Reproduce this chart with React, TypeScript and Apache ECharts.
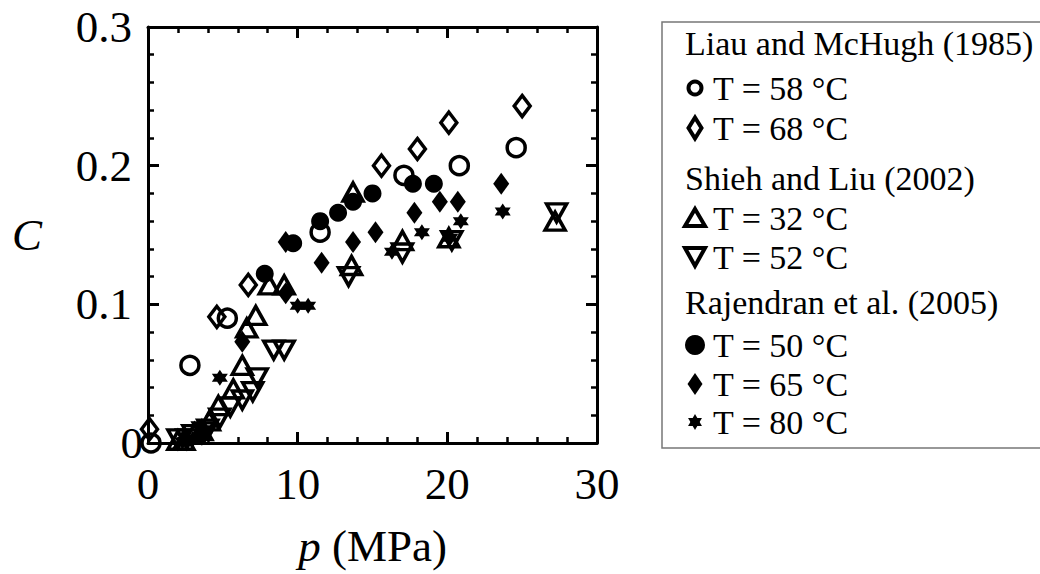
import React, { useEffect, useRef } from 'react';
import * as echarts from 'echarts';

// p (MPa), C
const liau58: number[][] = [[0.2, 0.0], [2.8, 0.056], [5.3, 0.090], [11.5, 0.152], [17.1, 0.193], [20.8, 0.200], [24.6, 0.213]];
const liau68: number[][] = [[0.1, 0.010], [4.6, 0.091], [6.7, 0.114], [15.6, 0.200], [18.0, 0.212], [20.1, 0.231], [25.0, 0.243]];
const shieh32: number[][] = [[2.0, 0.002], [2.4, 0.002], [3.1, 0.007], [3.6, 0.009], [4.1, 0.016], [4.7, 0.027], [5.7, 0.039], [6.3, 0.056], [6.6, 0.083], [7.2, 0.092], [8.1, 0.114], [9.1, 0.114], [13.6, 0.128], [13.7, 0.181], [17.0, 0.146], [20.1, 0.148], [27.2, 0.160]];
const shieh52: number[][] = [[2.0, 0.003], [2.6, 0.003], [3.0, 0.006], [3.7, 0.008], [4.0, 0.010], [4.8, 0.018], [5.5, 0.026], [6.3, 0.031], [7.0, 0.037], [7.3, 0.047], [8.4, 0.067], [9.1, 0.067], [13.4, 0.120], [17.0, 0.137], [20.3, 0.146], [27.3, 0.166]];
const raj50: number[][] = [[7.8, 0.122], [9.7, 0.144], [11.5, 0.160], [12.7, 0.166], [13.7, 0.174], [15.0, 0.180], [17.7, 0.187], [19.1, 0.187]];
const raj65: number[][] = [[3.6, 0.006], [6.3, 0.073], [9.2, 0.108], [9.2, 0.145], [11.6, 0.130], [13.7, 0.145], [15.2, 0.152], [17.8, 0.166], [19.5, 0.174], [20.7, 0.174], [23.6, 0.187]];
const raj80: number[][] = [[2.3, 0.001], [3.0, 0.003], [3.8, 0.010], [4.8, 0.047], [10.0, 0.099], [10.7, 0.099], [16.3, 0.138], [18.3, 0.152], [20.2, 0.148], [20.9, 0.160], [23.7, 0.167]];

const legendHeaders = ['Liau and McHugh (1985)', 'Shieh and Liu (2002)', 'Rajendran et al. (2005)'];
const legendItems = ['T = 58 °C', 'T = 68 °C', 'T = 32 °C', 'T = 52 °C', 'T = 50 °C', 'T = 65 °C', 'T = 80 °C'];

const FONT = '"Liberation Serif", "Times New Roman", serif';
const DOWN_TRI = 'path://M0,0 L20,0 L10,18 Z';
const STAR = 'path://M10,0 L18.66,15 L1.34,15 Z M10,20 L1.34,5 L18.66,5 Z';

const openStyle = { color: 'rgba(0,0,0,0)', borderColor: '#000', borderWidth: 3.5, opacity: 1 };
const fillStyle = { color: '#000', borderColor: '#000', borderWidth: 0, opacity: 1 };

function buildLegend() {
  const st = () => ({ fill: 'none', stroke: '#000', lineWidth: 4 });
  const fs = () => ({ fill: '#000' });
  const els: any[] = [
    { type: 'rect', shape: { x: 662, y: 22, width: 420, height: 426 }, style: { fill: 'none', stroke: '#777', lineWidth: 1.5 } },
  ];
  const headerY = [43, 178, 302];
  headerY.forEach((y, i) => {
    els.push({ type: 'text', x: 685, y, style: { text: legendHeaders[i], font: `34px ${FONT}`, fill: '#000', verticalAlign: 'middle', align: 'left' } });
  });
  const itemY = [88, 128, 218, 257, 345, 384, 422];
  itemY.forEach((y, i) => {
    els.push({ type: 'text', x: 713, y, style: { text: legendItems[i], font: `34px ${FONT}`, fill: '#000', verticalAlign: 'middle', align: 'left' } });
  });
  const cx = 695;
  els.push({ type: 'circle', shape: { cx, cy: 88, r: 6.5 }, style: st() });
  els.push({ type: 'polygon', shape: { points: [[cx, 128 - 10.5], [cx + 6.5, 128], [cx, 128 + 10.5], [cx - 6.5, 128]] }, style: st() });
  els.push({ type: 'polygon', shape: { points: [[cx, 218 - 9], [cx + 10, 218 + 8], [cx - 10, 218 + 8]] }, style: st() });
  els.push({ type: 'polygon', shape: { points: [[cx - 10, 257 - 9], [cx + 10, 257 - 9], [cx, 257 + 9]] }, style: st() });
  els.push({ type: 'circle', shape: { cx, cy: 345, r: 10 }, style: fs() });
  els.push({ type: 'polygon', shape: { points: [[cx, 384 - 11], [cx + 7.5, 384], [cx, 384 + 11], [cx - 7.5, 384]] }, style: fs() });
  const sy = 422, sr = 8;
  els.push({ type: 'polygon', shape: { points: [[cx, sy - sr], [cx + sr * 0.866, sy + sr * 0.5], [cx - sr * 0.866, sy + sr * 0.5]] }, style: fs() });
  els.push({ type: 'polygon', shape: { points: [[cx, sy + sr], [cx - sr * 0.866, sy - sr * 0.5], [cx + sr * 0.866, sy - sr * 0.5]] }, style: fs() });
  return els;
}

export default function App() {
  const ref = useRef<HTMLDivElement>(null);
  useEffect(() => {
    if (!ref.current) return;
    const chart = echarts.init(ref.current, undefined, { renderer: 'svg' });
    const tickCommon = {
      axisLine: { show: true, onZero: false, lineStyle: { color: '#000', width: 3 } },
      axisTick: { show: true, inside: true, length: 11, lineStyle: { color: '#000', width: 3 } },
      minorTick: { show: true, splitNumber: 5, length: 6, lineStyle: { color: '#000', width: 2.5 } },
      splitLine: { show: false },
      minorSplitLine: { show: false },
    };
    const xBase = { type: 'value', min: 0, max: 30, interval: 10, ...tickCommon };
    const yBase = { type: 'value', min: 0, max: 0.3, interval: 0.1, ...tickCommon };
    const mk = (name: string, data: number[][], symbol: string, size: any, style: any) => ({
      name, type: 'scatter', data, symbol, symbolSize: size, itemStyle: style, xAxisIndex: 0, yAxisIndex: 0,
      emphasis: { disabled: true },
    });
    chart.setOption({
      animation: false,
      backgroundColor: '#fff',
      grid: { left: 148, right: 443, top: 27, bottom: 131, containLabel: false },
      xAxis: [
        {
          ...xBase, position: 'bottom',
          name: '{i|p} (MPa)', nameLocation: 'middle', nameGap: 80,
          nameTextStyle: { fontSize: 45, fontFamily: FONT, color: '#000', rich: { i: { fontStyle: 'italic', fontSize: 45, fontFamily: FONT, color: '#000' } } },
          axisLabel: { show: true, margin: 18, fontSize: 45, fontFamily: FONT, color: '#000' },
        },
        { ...xBase, position: 'top', axisLabel: { show: false } },
      ],
      yAxis: [
        {
          ...yBase, position: 'left',
          name: 'C', nameLocation: 'middle', nameRotate: 0, nameGap: 106,
          nameTextStyle: { fontSize: 45, fontFamily: FONT, fontStyle: 'italic', color: '#000' },
          axisLabel: {
            show: true, margin: 5, fontSize: 45, fontFamily: FONT, color: '#000',
            formatter: (v: number) => (v === 0 ? '0' : `{p|${Number(v.toFixed(1))}}`),
            rich: { p: { padding: [0, 11, 0, 0], fontSize: 45, fontFamily: FONT, color: '#000' } },
          },
        },
        { ...yBase, position: 'right', axisLabel: { show: false } },
      ],
      series: [
        mk('Liau and McHugh (1985) T = 58 °C', liau58, 'circle', 18, openStyle),
        mk('Liau and McHugh (1985) T = 68 °C', liau68, 'diamond', [16, 21], openStyle),
        mk('Shieh and Liu (2002) T = 32 °C', shieh32, 'triangle', [20, 18], openStyle),
        mk('Shieh and Liu (2002) T = 52 °C', shieh52, DOWN_TRI, [20, 18], openStyle),
        mk('Rajendran et al. (2005) T = 50 °C', raj50, 'circle', 18, fillStyle),
        mk('Rajendran et al. (2005) T = 65 °C', raj65, 'diamond', [16, 22], fillStyle),
        mk('Rajendran et al. (2005) T = 80 °C', raj80, STAR, 16, fillStyle),
      ],
      graphic: buildLegend(),
    });
    return () => chart.dispose();
  }, []);
  return <div ref={ref} style={{ position: 'fixed', left: 0, top: 0, width: 1040, height: 574 }} />;
}
